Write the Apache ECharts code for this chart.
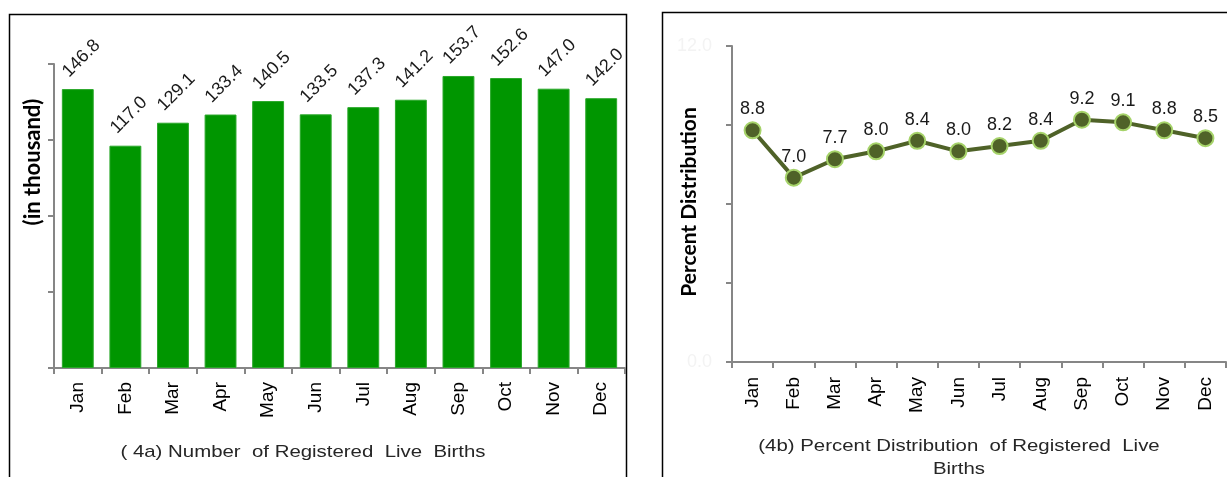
<!DOCTYPE html>
<html>
<head>
<meta charset="utf-8">
<title>Registered Live Births by Month</title>
<script src="https://cdn.jsdelivr.net/npm/echarts@6/dist/echarts.min.js"></script>
<style>
  html, body { margin: 0; padding: 0; background: #ffffff; }
  #chart { width: 1227px; height: 477px; }
</style>
</head>
<body>
<div id="chart"></div>
<script>
// Months shared by both panels
const months = ['Jan', 'Feb', 'Mar', 'Apr', 'May', 'Jun', 'Jul', 'Aug', 'Sep', 'Oct', 'Nov', 'Dec'];

// (4a) Number of registered live births, in thousand
const births = [146.8, 117.0, 129.1, 133.4, 140.5, 133.5, 137.3, 141.2, 153.7, 152.6, 147.0, 142.0];

// (4b) Percent distribution of registered live births
const percents = [8.8, 7.0, 7.7, 8.0, 8.4, 8.0, 8.2, 8.4, 9.2, 9.1, 8.8, 8.5];

// Axis ranges
const birthsAxis = { min: 0, max: 160, interval: 40 };
const percentAxis = { min: 0, max: 12, interval: 3 };

// Panel captions and axis names
const titleA = '( 4a) Number  of Registered  Live  Births';
const titleB1 = '(4b) Percent Distribution  of Registered  Live';
const titleB2 = 'Births';
const nameA = '(in thousand)';
const nameB = 'Percent Distribution';

const labelFont = 'Liberation Sans, Arial, sans-serif';
const nameFont = 'Lato, Open Sans, sans-serif';
const axisGray = '#868686';

const chart = echarts.init(document.getElementById('chart'), null, { renderer: 'canvas' });

function monthAxis(gridIndex, margin) {
  return {
    gridIndex: gridIndex,
    type: 'category',
    data: months,
    boundaryGap: true,
    axisLine: { lineStyle: { color: axisGray, width: 2 } },
    axisTick: { show: true, alignWithLabel: false, length: 6, lineStyle: { color: axisGray, width: 2 } },
    axisLabel: {
      rotate: 90, margin: margin, color: '#000', fontSize: 19, fontFamily: labelFont, interval: 0
    },
    splitLine: { show: false }
  };
}

const yAxisCommon = {
  type: 'value',
  axisLine: { show: true, lineStyle: { color: axisGray, width: 2 } },
  axisTick: { show: true, length: 6, lineStyle: { color: axisGray, width: 2 } },
  splitLine: { show: false }
};

// horizontal captions are drawn slightly widened
const stretch = 1.2;

chart.setOption({
  animation: false,
  backgroundColor: '#ffffff',
  grid: [
    { left: 54, top: 64, width: 571, height: 304, containLabel: false },
    { left: 732, top: 46, width: 494, height: 316, containLabel: false }
  ],
  xAxis: [monthAxis(0, 14), monthAxis(1, 15)],
  yAxis: [
    Object.assign({ gridIndex: 0 }, yAxisCommon, birthsAxis, {
      axisLabel: { show: false }
    }),
    Object.assign({ gridIndex: 1 }, yAxisCommon, percentAxis, {
      axisLabel: {
        show: true, color: '#f3f3f3', fontSize: 18, fontFamily: labelFont, margin: 20,
        formatter: function (v) {
          return (v === percentAxis.min || v === percentAxis.max) ? v.toFixed(1) : '';
        }
      }
    })
  ],
  series: [
    {
      type: 'bar',
      xAxisIndex: 0,
      yAxisIndex: 0,
      data: births,
      barCategoryGap: '33%',
      itemStyle: { color: '#009600', borderColor: '#2aa82a', borderWidth: 1 },
      label: {
        show: true,
        position: 'top',
        distance: 27,
        offset: [5, 0],
        rotate: 45,
        align: 'center',
        verticalAlign: 'middle',
        color: '#1a1a1a',
        fontSize: 18,
        fontFamily: labelFont,
        formatter: function (p) { return p.value.toFixed(1); }
      }
    },
    {
      type: 'line',
      xAxisIndex: 1,
      yAxisIndex: 1,
      data: percents,
      symbol: 'circle',
      symbolSize: 16,
      lineStyle: { color: '#4f6228', width: 4 },
      itemStyle: { color: '#4f6228', borderColor: '#a6d36a', borderWidth: 2 },
      label: {
        show: true,
        position: 'top',
        distance: 3,
        color: '#1a1a1a',
        fontSize: 18,
        fontFamily: labelFont,
        formatter: function (p) { return p.value.toFixed(1); }
      }
    }
  ],
  graphic: [
    // panel frames
    {
      type: 'rect', silent: true, z: 0,
      shape: { x: 9.5, y: 14.5, width: 617, height: 480 },
      style: { fill: 'none', stroke: '#000', lineWidth: 1.5 }
    },
    {
      type: 'rect', silent: true, z: 0,
      shape: { x: 662.5, y: 12.5, width: 600, height: 480 },
      style: { fill: 'none', stroke: '#000', lineWidth: 1.5 }
    },
    // axis names
    {
      type: 'text', silent: true,
      x: 33, y: 162, rotation: Math.PI / 2,
      style: {
        text: nameA, fill: '#000', font: 'bold 22px ' + nameFont,
        align: 'center', verticalAlign: 'middle'
      }
    },
    {
      type: 'text', silent: true,
      x: 689, y: 202, rotation: Math.PI / 2,
      style: {
        text: nameB, fill: '#000', font: 'bold 21px ' + nameFont,
        align: 'center', verticalAlign: 'middle'
      }
    },
    // panel captions
    {
      type: 'text', silent: true,
      x: 303, y: 452, scaleX: stretch,
      style: {
        text: titleA, fill: '#262626', font: '17px ' + labelFont,
        align: 'center', verticalAlign: 'middle'
      }
    },
    {
      type: 'text', silent: true,
      x: 959, y: 446, scaleX: stretch,
      style: {
        text: titleB1, fill: '#262626', font: '17px ' + labelFont,
        align: 'center', verticalAlign: 'middle'
      }
    },
    {
      type: 'text', silent: true,
      x: 959, y: 469, scaleX: stretch,
      style: {
        text: titleB2, fill: '#262626', font: '17px ' + labelFont,
        align: 'center', verticalAlign: 'middle'
      }
    }
  ]
});
</script>
</body>
</html>
